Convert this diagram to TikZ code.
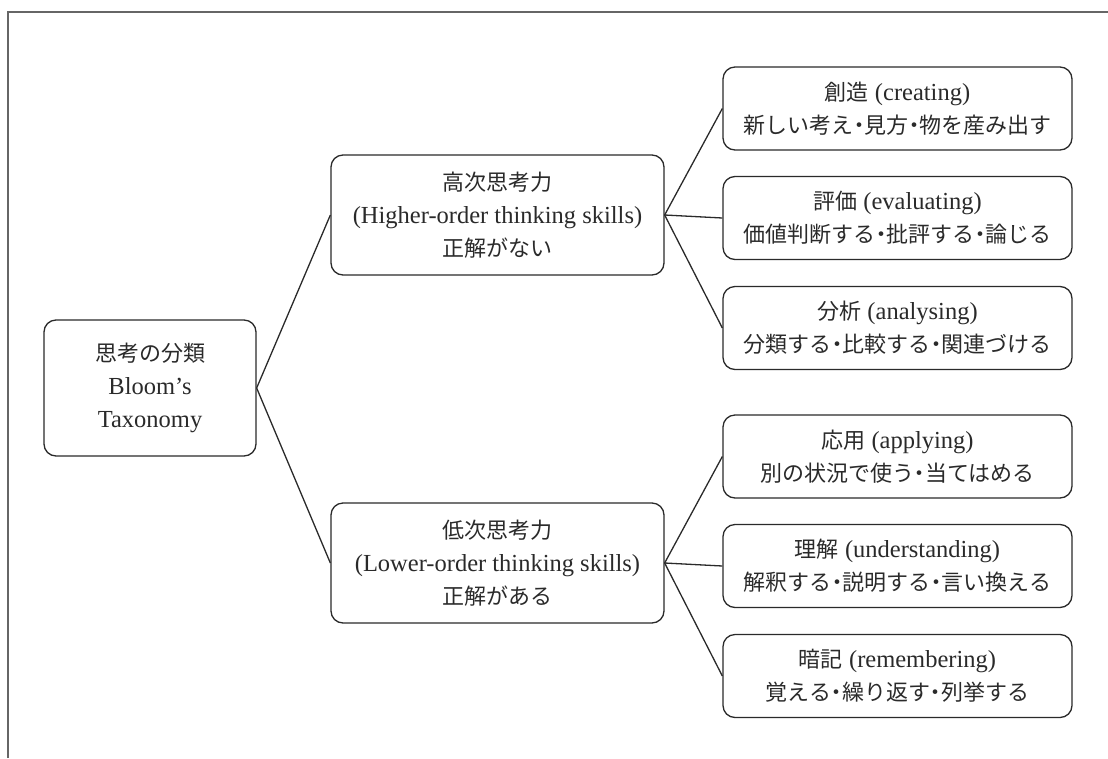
\documentclass[tikz,border=0pt]{standalone}
\usepackage{fontspec}
\setmainfont{Liberation Serif}
\newfontfamily\jpfont{Noto Sans CJK JP}
\newcommand{\J}[1]{{\jpfont\fontsize{22}{33}\selectfont #1}}
\newcommand{\dt}{\makebox[0.5em][c]{・}}
\definecolor{ink}{HTML}{2A2A2A}
\definecolor{framec}{HTML}{666666}
\tikzset{
  box/.style={draw=ink, line width=1.3pt, rounded corners=12pt, align=center,
    inner sep=0pt, text=ink, font=\fontsize{24.5}{33}\selectfont},
  rootbox/.style={box, minimum width=212pt, minimum height=136pt},
  midbox/.style={box, minimum width=333pt, minimum height=120pt},
  leafbox/.style={box, minimum width=349pt, minimum height=83pt},
  link/.style={draw=ink, line width=1.3pt}
}
\begin{document}
\begin{tikzpicture}[x=1pt,y=-1pt]
\useasboundingbox (0,0) rectangle (1108,758);
\draw[framec, line width=1.2pt] (8,758) -- (8,12) -- (1108,12);

\node[rootbox] (root) at (150,388) {\J{思考の分類}\\Bloom’s\\Taxonomy};
\node[midbox] (high) at (497.5,215) {\J{高次思考力}\\(Higher-order thinking skills)\\\J{正解がない}};
\node[midbox] (low) at (497.5,563) {\J{低次思考力}\\(Lower-order thinking skills)\\\J{正解がある}};

\node[leafbox] (cre) at (897.5,108.5) {\J{創造} (creating)\\\J{新しい考え\dt 見方\dt 物を産み出す}};
\node[leafbox] (eva) at (897.5,218) {\J{評価} (evaluating)\\\J{価値判断する\dt 批評する\dt 論じる}};
\node[leafbox] (ana) at (897.5,328) {\J{分析} (analysing)\\\J{分類する\dt 比較する\dt 関連づける}};
\node[leafbox] (app) at (897.5,456.5) {\J{応用} (applying)\\\J{別の状況で使う\dt 当てはめる}};
\node[leafbox] (und) at (897.5,566) {\J{理解} (understanding)\\\J{解釈する\dt 説明する\dt 言い換える}};
\node[leafbox] (rem) at (897.5,676) {\J{暗記} (remembering)\\\J{覚える\dt 繰り返す\dt 列挙する}};

\draw[link] (high.west) -- (root.east) -- (low.west);
\draw[link] (high.east) -- (cre.west);
\draw[link] (high.east) -- (eva.west);
\draw[link] (high.east) -- (ana.west);
\draw[link] (low.east) -- (app.west);
\draw[link] (low.east) -- (und.west);
\draw[link] (low.east) -- (rem.west);
\end{tikzpicture}
\end{document}
